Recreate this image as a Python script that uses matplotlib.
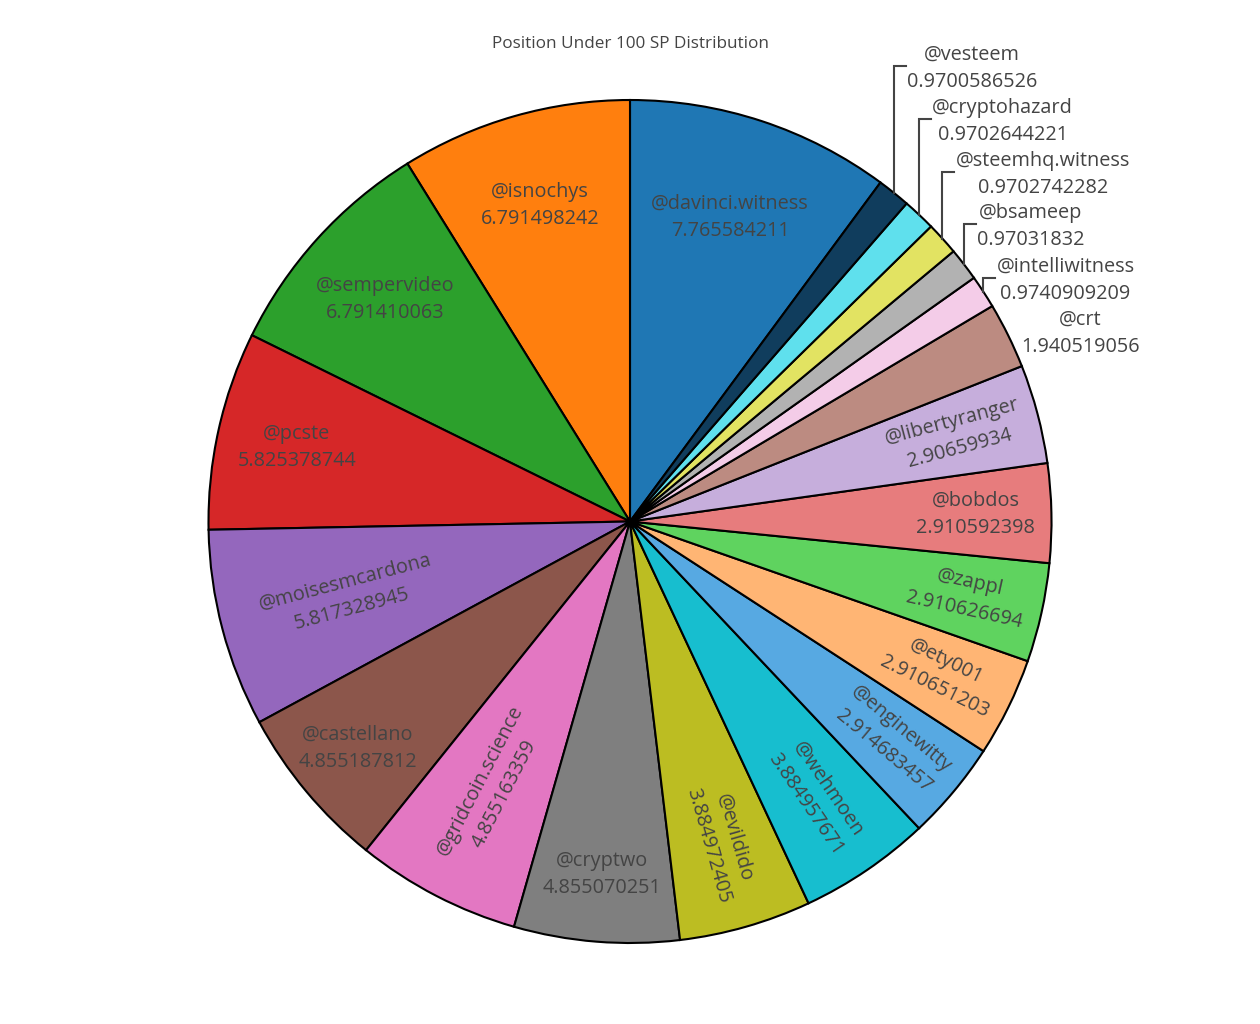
import colorsys
import numpy as np
import matplotlib
matplotlib.use("Agg")
import matplotlib.pyplot as plt
from matplotlib.colors import to_rgb, to_hex

plt.rcParams['font.family'] = ['Open Sans', 'DejaVu Sans']

title = "Position Under 100 SP Distribution"

names = ["@davinci.witness", "@isnochys", "@sempervideo", "@pcste", "@moisesmcardona",
         "@castellano", "@gridcoin.science", "@cryptwo", "@evildido", "@wehmoen",
         "@enginewitty", "@ety001", "@zappl", "@bobdos", "@libertyranger", "@crt",
         "@intelliwitness", "@bsameep", "@steemhq.witness", "@cryptohazard", "@vesteem"]
values = [7.765584211, 6.791498242, 6.791410063, 5.825378744, 5.817328945,
          4.855187812, 4.855163359, 4.855070251, 3.884972405, 3.884957671,
          2.914683457, 2.910651203, 2.910626694, 2.910592398, 2.90659934, 1.940519056,
          0.9740909209, 0.97031832, 0.9702742282, 0.9702644221, 0.9700586526]

base_colors = ['#1f77b4', '#ff7f0e', '#2ca02c', '#d62728', '#9467bd',
               '#8c564b', '#e377c2', '#7f7f7f', '#bcbd22', '#17becf']

# label placement: radius inside the slice (None = outside) and orientation
label_r = [0.76, 0.78, 0.785, 0.81, 0.69, 0.84, 0.71, 0.84, 0.79, 0.79,
           0.81, 0.82, 0.82, 0.82, 0.80, None, None, None, None, None, None]
label_orient = ['h', 'h', 'h', 'h', 'r', 'h', 'r', 'h', 'r', 'r',
                'r', 'r', 'r', 'h', 'r', 'h', 'h', 'h', 'h', 'h', 'h']
# heights of the outside labels (data units, pie radius = 1)
outside_y = {15: 0.451, 16: 0.577, 17: 0.705, 18: 0.828, 19: 0.954, 20: 1.0795}
leader = {16, 17, 18, 19, 20}

TXT = '#444444'
FS = 14.3
LS = 1.5


def shade(c, amount):
    h, l, s = colorsys.rgb_to_hls(*to_rgb(c))
    l = min(max(l + amount, 0.0), 1.0)
    return to_hex(colorsys.hls_to_rgb(h, l, s))


colors = base_colors + [shade(c, 0.2) for c in base_colors] + [shade(c, -0.2) for c in base_colors]
colors = colors[:len(values)]

W, H = 1260, 1024
fig = plt.figure(figsize=(W / 100, H / 100), dpi=100)
cx, cy, R = 630, 1024 - 521.5, 421.5
ax = fig.add_axes([(cx - R) / W, (cy - R) / H, 2 * R / W, 2 * R / H])

total = sum(values)
wedges, _ = ax.pie(values, colors=colors, startangle=90 - values[0] / total * 360,
                   counterclock=True, radius=1,
                   wedgeprops=dict(edgecolor='black', linewidth=1.5))
ax.set_xlim(-1, 1)
ax.set_ylim(-1, 1)
ax.axis('off')

for i, w in enumerate(wedges):
    theta = (w.theta1 + w.theta2) / 2
    t = np.deg2rad(theta)
    txt = f"{names[i]}\n{values[i]}"
    if label_r[i] is not None:
        r = label_r[i]
        rot = 0
        if label_orient[i] == 'r':
            a = (theta + 180) % 360 - 180
            rot = a if -90 <= a <= 90 else (a - 180 if a > 0 else a + 180)
        ax.text(r * np.cos(t), r * np.sin(t), txt, ha='center', va='center',
                rotation=rot, rotation_mode='anchor', fontsize=FS, color=TXT,
                linespacing=LS, multialignment='center')
    else:
        ex, ey = np.cos(t), np.sin(t)
        ly = outside_y[i]
        if i in leader:
            ax.plot([ex, ex, ex + 0.028], [ey, ly, ly], color=TXT, lw=1.5,
                    solid_joinstyle='miter', clip_on=False)
        ax.text(ex + 0.031, ly - 0.005, txt, ha='left', va='center', fontsize=FS,
                color=TXT, linespacing=LS, multialignment='center', clip_on=False)

fig.text(cx / W, 1 - 44 / H, title, ha='center', va='center', fontsize=12.3, color=TXT)

fig.savefig("out.png", dpi=100)
